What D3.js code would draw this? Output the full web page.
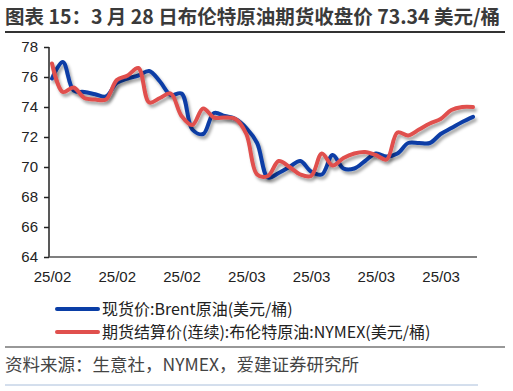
<!DOCTYPE html>
<html>
<head>
<meta charset="utf-8">
<script src="https://cdn.jsdelivr.net/npm/d3@7"></script>
<style>
  body { margin: 0; background: #fff; }
  svg { display: block; }
</style>
</head>
<body>
<svg id="chart" width="513" height="391"></svg>
<script>
// --- Data ---
const tickLabels = ["25/02", "25/02", "25/02", "25/03", "25/03", "25/03", "25/03"];
const tickEvery = 6;
const yTicks = [64, 66, 68, 70, 72, 74, 76, 78];

// 现货价:Brent原油
const spot = [75.9, 77.0, 75.1, 75.0, 74.85, 74.7, 75.6, 75.9, 76.1, 76.4,
              75.7, 74.8, 74.9, 72.5, 72.2, 73.6, 73.4, 73.2, 72.6, 71.6,
              69.3, 69.6, 70.0, 70.4, 69.7, 69.5, 70.8, 69.9, 69.9, 70.4,
              70.9, 70.7, 70.9, 71.6, 71.6, 71.6, 72.2, 72.6, 73.0, 73.34];
// 期货结算价(连续):布伦特原油:NYMEX
const futures = [76.9, 75.0, 75.3, 74.6, 74.5, 74.5, 75.8, 76.1, 76.6, 74.3,
                 74.6, 74.9, 73.4, 72.8, 73.9, 73.3, 73.3, 73.2, 72.2, 69.5,
                 69.4, 70.4, 70.0, 69.5, 69.4, 70.9, 70.1, 70.6, 70.9, 71.0,
                 70.8, 70.5, 72.3, 72.1, 72.5, 72.9, 73.2, 73.8, 74.0, 74.0];

const series = [
    { name: "现货价:Brent原油(美元/桶)", values: spot, color: "#0a3ea6" },
    { name: "期货结算价(连续):布伦特原油:NYMEX(美元/桶)", values: futures, color: "#e0504d" }
];

// --- Layout ---
const svg = d3.select("#chart");
const font = "'Liberation Sans', Arial, 'Noto Sans CJK SC', sans-serif";
const cjk = "'Noto Sans CJK SC', 'Liberation Sans', sans-serif";
const plot = { left: 49, right: 477, top: 47, bottom: 257 };

// Shadow filter
const defs = svg.append("defs");
const f = defs.append("filter").attr("id", "shadow")
    .attr("x", "-10%").attr("y", "-10%").attr("width", "120%").attr("height", "130%");
f.append("feDropShadow").attr("dx", 2).attr("dy", 3).attr("stdDeviation", 1.5)
    .attr("flood-color", "#000").attr("flood-opacity", 0.35);

// Title
svg.append("text")
    .attr("x", 5).attr("y", 24)
    .attr("font-family", cjk).attr("font-weight", "bold").attr("font-size", 19.5)
    .attr("fill", "#3a3a3a")
    .text("图表 15：3 月 28 日布伦特原油期货收盘价 73.34 美元/桶");

svg.append("line")
    .attr("x1", 5).attr("x2", 505).attr("y1", 32).attr("y2", 32)
    .attr("stroke", "#333").attr("stroke-width", 2);

// Scales
const x = d3.scaleLinear()
    .domain([0, spot.length - 1])
    .range([52, 473]);

const y = d3.scaleLinear()
    .domain([64, 78])
    .range([plot.bottom, plot.top]);

// Y axis
const yAxis = svg.append("g")
    .attr("transform", `translate(${plot.left},0)`)
    .call(d3.axisLeft(y).tickValues(yTicks).tickSize(5).tickSizeOuter(0).tickPadding(6));
yAxis.select(".domain").attr("stroke", "#222").attr("stroke-width", 1.5)
    .attr("d", `M0,${plot.top}V${plot.bottom}`);
yAxis.selectAll(".tick line").attr("stroke", "#222").attr("stroke-width", 1.5);
yAxis.selectAll(".tick text")
    .attr("font-family", font).attr("font-size", 15).attr("fill", "#222");

// X axis
const xAxis = svg.append("g")
    .attr("transform", `translate(0,${plot.bottom})`)
    .call(d3.axisBottom(x)
        .tickValues(tickLabels.map((d, i) => i * tickEvery))
        .tickFormat((d, i) => tickLabels[i])
        .tickSize(0).tickPadding(14));
xAxis.select(".domain").attr("stroke", "#555").attr("stroke-width", 1.5)
    .attr("d", `M${plot.left},0H${plot.right}`);
xAxis.selectAll(".tick text")
    .attr("font-family", font).attr("font-size", 15).attr("fill", "#222");

// Lines
const line = d3.line()
    .x((d, i) => x(i))
    .y(d => y(d))
    .curve(d3.curveCatmullRom.alpha(0.5));

series.forEach(s => {
    svg.append("path")
        .datum(s.values)
        .attr("fill", "none")
        .attr("stroke", s.color)
        .attr("stroke-width", 4)
        .attr("stroke-linejoin", "round")
        .attr("stroke-linecap", "round")
        .attr("filter", "url(#shadow)")
        .attr("d", line);
});

// Legend
series.forEach((s, i) => {
    const ly = 309 + i * 23;
    svg.append("line")
        .attr("x1", 57).attr("x2", 98).attr("y1", ly).attr("y2", ly)
        .attr("stroke", s.color).attr("stroke-width", 4).attr("stroke-linecap", "round");
    svg.append("text")
        .attr("x", 102).attr("y", ly + 5.5)
        .attr("font-family", cjk).attr("font-size", 16).attr("fill", "#222")
        .text(s.name);
});

// Footer
svg.append("line")
    .attr("x1", 5).attr("x2", 505).attr("y1", 347).attr("y2", 347)
    .attr("stroke", "#333").attr("stroke-width", 1.2);

svg.append("text")
    .attr("x", 5).attr("y", 371)
    .attr("font-family", cjk).attr("font-size", 17.5).attr("fill", "#444")
    .text("资料来源：生意社，NYMEX，爱建证券研究所");

svg.append("line")
    .attr("x1", 5).attr("x2", 478).attr("y1", 385).attr("y2", 385)
    .attr("stroke", "#a9bedb").attr("stroke-width", 1);
</script>
</body>
</html>
